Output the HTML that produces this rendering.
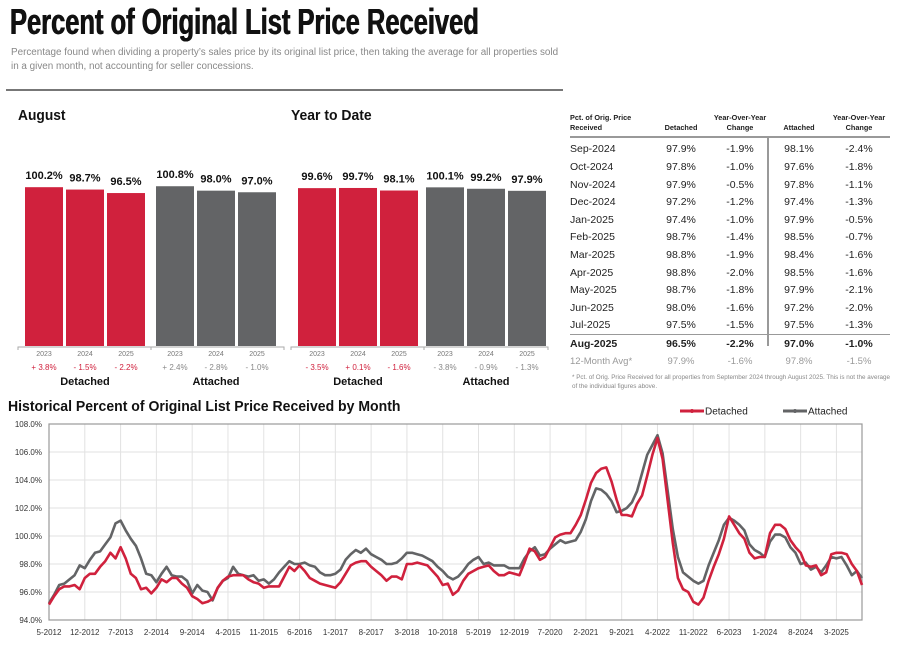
<!DOCTYPE html>
<html><head><meta charset="utf-8">
<style>
body{margin:0;width:903px;height:650px;background:#fff;font-family:"Liberation Sans",sans-serif;position:relative;overflow:hidden}
.a{position:absolute;white-space:nowrap}
.h{font-weight:bold;color:#111;transform-origin:0 0}
.tbl td{font-size:10.5px;color:#222;height:17.6px;padding:0}
</style></head><body>
<div class="a h" style="left:10px;top:1px;font-size:36px;transform:scaleX(0.708);text-shadow:0.5px 0 0 #111,-0.5px 0 0 #111">Percent of Original List Price Received</div>
<div class="a" style="left:11px;top:46px;font-size:9.9px;color:#888;line-height:14px;white-space:normal;width:552px">Percentage found when dividing a property’s sales price by its original list price, then taking the average for all properties sold in a given month, not accounting for seller concessions.</div>
<div class="a" style="left:6px;top:89px;width:557px;height:2px;background:#777"></div>
<div class="a h" style="left:18px;top:107px;font-size:15px;transform:scaleX(0.92)">August</div>
<div class="a h" style="left:291px;top:107px;font-size:15px;transform:scaleX(0.93)">Year to Date</div>
<svg class="a" style="left:0;top:0" width="570" height="400" id="bars"></svg>

<table class="a tbl" style="left:570px;top:111px;border-collapse:collapse;width:320px" id="tbl">
<tr style="font-weight:bold"><td style="font-size:7.3px;line-height:10px;height:27px;vertical-align:top;width:82px;padding-top:2px">Pct. of Orig. Price<br>Received</td><td style="font-size:7.3px;line-height:10px;vertical-align:top;padding-top:12px;text-align:center;width:58px">Detached</td><td style="font-size:7.3px;line-height:10px;vertical-align:top;padding-top:2px;text-align:center;width:60px">Year-Over-Year<br>Change</td><td style="font-size:7.3px;line-height:10px;vertical-align:top;padding-top:12px;text-align:center;width:58px">Attached</td><td style="font-size:7.3px;line-height:10px;vertical-align:top;padding-top:2px;text-align:center">Year-Over-Year<br>Change</td></tr>
</table>
<div class="a" style="left:570px;top:136px;width:320px;height:2px;background:#999"></div>
<div class="a" style="left:767px;top:137px;width:2px;height:209px;background:#999"></div>
<div class="a" style="left:572px;top:373px;font-size:6.3px;color:#888;white-space:normal;width:320px;line-height:9px">* Pct. of Orig. Price Received for all properties from September 2024 through August 2025. This is not the average of the individual figures above.</div>

<div class="a h" style="left:8px;top:398px;font-size:15px;transform:scaleX(0.936)">Historical Percent of Original List Price Received by Month</div>
<svg class="a" style="left:0;top:400px" width="903" height="250" id="line"></svg>

<script>
// ---- bar data ----
const barYears=['2023','2024','2025'];
const augDetached=[100.2,98.7,96.5];
const augAttached=[100.8,98.0,97.0];
const ytdDetached=[99.6,99.7,98.1];
const ytdAttached=[100.1,99.2,97.9];
const augDetChg=['+ 3.8%','- 1.5%','- 2.2%'];
const augAttChg=['+ 2.4%','- 2.8%','- 1.0%'];
const ytdDetChg=['- 3.5%','+ 0.1%','- 1.6%'];
const ytdAttChg=['- 3.8%','- 0.9%','- 1.3%'];
const NS='http://www.w3.org/2000/svg';
function mk(p,t,at){const e=document.createElementNS(NS,t);for(const k in at)e.setAttribute(k,at[k]);p.appendChild(e);return e;}
const bs=document.getElementById('bars');
const base=346, k=1.585;
function group(x0,vals,chg,color,label,nm){
  const w=38,gap=3;
  vals.forEach((v,i)=>{
    const x=x0+i*(w+gap), h=v*k;
    const r=mk(bs,'rect',{x:x,y:base-h,width:w,height:h,fill:color});
    
    
    const t=mk(bs,'text',{x:x+w/2,y:base-h-8,'text-anchor':'middle','font-size':11,'font-weight':'bold',fill:'#111'});
    t.textContent=v.toFixed(1)+'%';
    
    
    const y=mk(bs,'text',{x:x+w/2,y:356,'text-anchor':'middle','font-size':7,fill:'#777'});
    y.textContent=barYears[i];
    
    
    const c=mk(bs,'text',{x:x+w/2,y:370,'text-anchor':'middle','font-size':8,fill:color=='#d0213d'?'#d0213d':'#888'});
    c.textContent=chg[i];
    
    
  });
  const g=mk(bs,'text',{x:x0+(3*w+2*gap)/2,y:385,'text-anchor':'middle','font-size':11,'font-weight':'bold',fill:'#111'});
  g.textContent=label;
  
  
}
[[18,284],[291,548]].forEach(([a,b])=>{
  const l=mk(bs,'path',{d:`M${a} 350V347H${b}V350M${a+133} 347V350`,stroke:'#aaa',fill:'none','stroke-width':1});
  
  
});
group(25,augDetached,augDetChg,'#d0213d','Detached','aug-detached');
group(156,augAttached,augAttChg,'#636466','Attached','aug-attached');
group(298,ytdDetached,ytdDetChg,'#d0213d','Detached','ytd-detached');
group(426,ytdAttached,ytdAttChg,'#636466','Attached','ytd-attached');

// ---- table ----
const tMonths=['Sep-2024','Oct-2024','Nov-2024','Dec-2024','Jan-2025','Feb-2025','Mar-2025','Apr-2025','May-2025','Jun-2025','Jul-2025','Aug-2025','12-Month Avg*'];
const tDet=['97.9%','97.8%','97.9%','97.2%','97.4%','98.7%','98.8%','98.8%','98.7%','98.0%','97.5%','96.5%','97.9%'];
const tDetChg=['-1.9%','-1.0%','-0.5%','-1.2%','-1.0%','-1.4%','-1.9%','-2.0%','-1.8%','-1.6%','-1.5%','-2.2%','-1.6%'];
const tAtt=['98.1%','97.6%','97.8%','97.4%','97.9%','98.5%','98.4%','98.5%','97.9%','97.2%','97.5%','97.0%','97.8%'];
const tAttChg=['-2.4%','-1.8%','-1.1%','-1.3%','-0.5%','-0.7%','-1.6%','-1.6%','-2.1%','-2.0%','-1.3%','-1.0%','-1.5%'];
const tb=document.getElementById('tbl');
tMonths.forEach((m,i)=>{
  const tr=document.createElement('tr');
  
  
  const last=i==12, bold=i==11;
  [m,tDet[i],tDetChg[i],tAtt[i],tAttChg[i]].forEach((v,j)=>{
    const td=document.createElement('td');td.textContent=v;
    if(j>0)td.style.textAlign='center';
    if(last){td.style.color='#999';td.style.fontSize='9.5px';}
    if(bold){td.style.fontWeight='bold';td.style.borderTop='1px solid #999';}
    tr.appendChild(td);
  });
  tb.appendChild(tr);
});

// ---- line chart data ----
const startYear=2012,startMonth=5;
const detached=[95.1,95.7,96.2,96.4,96.4,96.5,96.2,97.0,
97.3,97.3,97.8,98.2,98.8,98.4,99.2,98.4,97.3,97.0,96.2,96.3,
95.9,96.3,96.9,96.7,97.0,97.0,96.6,96.3,95.7,95.5,95.2,95.3,
95.5,96.3,96.8,97.1,97.2,97.2,97.2,96.9,96.7,96.6,96.3,96.4,
96.4,96.4,97.1,97.8,97.5,97.9,97.5,97.0,96.8,96.6,96.5,96.4,
96.3,96.7,97.3,97.9,98.1,98.2,98.2,97.8,97.5,97.2,96.8,97.1,
97.1,96.9,98.0,98.0,98.1,98.0,97.9,97.5,97.1,96.5,96.6,95.8,
96.1,96.8,97.3,97.5,97.7,97.8,97.9,97.5,97.2,97.2,97.4,97.3,
97.2,98.1,99.1,98.9,98.3,98.5,99.2,99.9,100.1,100.2,100.2,100.8,
101.5,102.6,103.8,104.5,104.8,104.9,103.9,102.6,101.5,101.5,101.4,102.3,
102.9,104.3,105.8,107.0,105.5,102.5,99.5,97.0,96.2,96.0,95.3,95.1,
95.6,96.8,97.8,98.7,99.8,101.4,100.8,100.2,99.8,98.8,98.4,98.5,
98.5,100.2,100.8,100.8,100.5,99.7,99.2,98.8,97.9,97.8,97.9,97.2,
97.4,98.7,98.8,98.8,98.7,98.0,97.5,96.5];
const attached=[95.2,95.8,96.5,96.6,96.9,97.2,97.9,97.7,
98.3,98.8,98.9,99.4,99.9,100.9,101.1,100.4,99.8,99.3,98.4,97.3,
97.2,96.7,97.3,97.8,97.2,97.1,97.1,96.8,95.9,96.5,96.1,96.0,
95.4,96.3,96.8,97.0,97.8,97.3,97.2,97.1,97.2,96.8,96.9,96.6,
96.9,97.4,97.8,98.2,98.0,98.0,98.1,97.9,97.8,97.4,97.2,97.2,
97.3,97.6,98.3,98.7,99.0,98.8,99.1,98.7,98.5,98.3,98.0,98.0,
98.1,98.4,98.8,98.8,98.7,98.6,98.4,98.2,97.8,97.5,97.1,96.9,
97.1,97.5,98.0,98.3,98.5,98.0,98.1,97.9,97.9,97.9,97.7,97.7,
97.7,98.4,98.9,99.2,98.6,98.7,99.1,99.4,99.7,99.5,99.6,99.7,
100.3,101.2,102.5,103.4,103.3,103.0,102.5,101.7,101.8,102.0,102.4,103.2,
104.5,105.8,106.5,107.2,105.9,103.2,100.5,98.5,97.4,97.1,96.8,96.6,
96.8,97.9,98.8,99.7,100.8,101.3,101.1,100.8,100.4,99.4,99.0,98.8,
98.5,99.6,100.1,100.1,99.9,99.2,98.8,98.0,98.1,97.6,97.8,97.4,
97.9,98.5,98.4,98.5,97.9,97.2,97.5,97.0];
const yTicks=[94,96,98,100,102,104,106,108];
const L=document.getElementById('line');
const X0=49,X1=862,Y0=220,Y1=24,ymin=94,ymax=108,n=detached.length;
const xS=i=>X0+(X1-X0)*i/(n-1);
const yS=v=>Y0-(v-ymin)/(ymax-ymin)*(Y0-Y1);
yTicks.forEach(t=>{
  const g=mk(L,'line',{x1:X0,x2:X1,y1:yS(t),y2:yS(t),stroke:'#e2e2e2','stroke-width':1});
  
  
  const tx=mk(L,'text',{x:42,y:yS(t)+3,'text-anchor':'end','font-size':8,fill:'#333'});
  tx.textContent=t.toFixed(1)+'%';
  
  
});
for(let i=0;i<n;i+=7){
  const m=(startMonth-1+i)%12+1, y=startYear+Math.floor((startMonth-1+i)/12);
  const g=mk(L,'line',{x1:xS(i),x2:xS(i),y1:Y1,y2:Y0,stroke:'#e2e2e2','stroke-width':1});
  
  
  const tx=mk(L,'text',{x:xS(i),y:235,'text-anchor':'middle','font-size':8,fill:'#333'});
  tx.textContent=m+'-'+y;
  
  
}
const fr=mk(L,'rect',{x:X0,y:Y1,width:X1-X0,height:Y0-Y1,fill:'none',stroke:'#999','stroke-width':1.2});


function series(arr,color,nm){
  const p=mk(L,'polyline',{points:arr.map((v,i)=>xS(i).toFixed(1)+','+yS(v).toFixed(1)).join(' '),fill:'none',stroke:color,'stroke-width':2.6,'stroke-linejoin':'round'});
  
  
}
series(attached,'#636466','attached');
series(detached,'#d0213d','detached');
// legend
[['Detached','#d0213d',680],['Attached','#636466',783]].forEach(([t,c,x])=>{
  const l=mk(L,'line',{x1:x,x2:x+24,y1:11,y2:11,stroke:c,'stroke-width':3});
  
  
  const d=mk(L,'circle',{cx:x+12,cy:11,r:2,fill:c});
  
  
  const tx=mk(L,'text',{x:x+25,y:14.5,'font-size':10,fill:'#222'});
  tx.textContent=t;
  
  
});
</script>
</body></html>
